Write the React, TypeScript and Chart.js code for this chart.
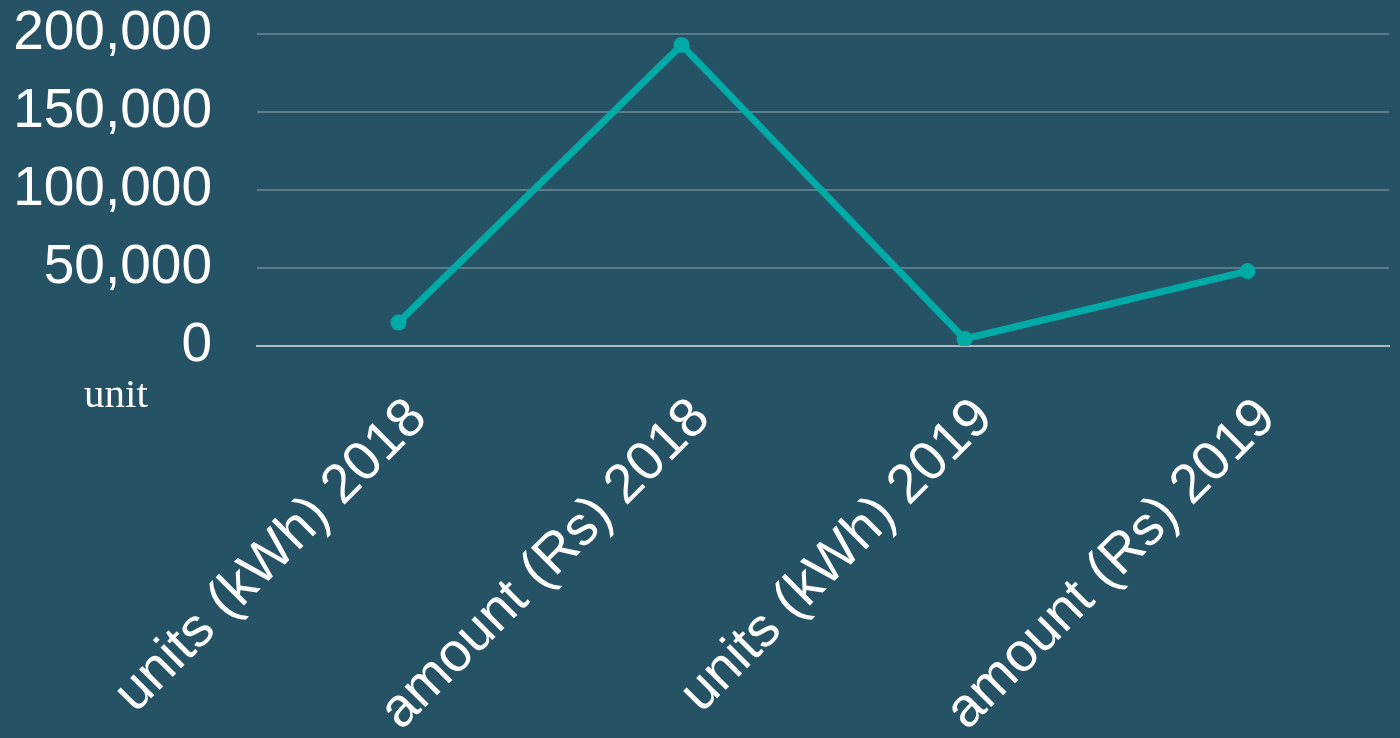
import React, { useEffect, useRef } from "react";
import { Chart, registerables } from "chart.js";

Chart.register(...registerables);

const categories = ["units (kWh) 2018", "amount (Rs) 2018", "units (kWh) 2019", "amount (Rs) 2019"];
const values = [15000, 193000, 4500, 48000];
const yTicks = [0, 50000, 100000, 150000, 200000];
const unitLabel = "unit";

const BG = "#255265";
const LINE = "#00ABA6";
const FONT = "'Liberation Sans', Arial, sans-serif";

export default function App() {
  const ref = useRef<HTMLCanvasElement | null>(null);

  useEffect(() => {
    document.body.style.margin = "0";
    document.body.style.background = BG;
    const canvas = ref.current;
    if (!canvas) return;
    const chart = new Chart(canvas, {
      type: "line",
      data: {
        labels: categories,
        datasets: [
          {
            data: values,
            borderColor: LINE,
            backgroundColor: LINE,
            borderWidth: 7,
            pointRadius: 8,
            pointBackgroundColor: LINE,
            pointBorderColor: LINE,
            pointBorderWidth: 0,
            tension: 0,
            fill: false,
          },
        ],
      },
      options: {
        animation: false,
        responsive: true,
        maintainAspectRatio: false,
        layout: { padding: { top: 34, right: 11, left: 0, bottom: 0 } },
        plugins: {
          legend: { display: false },
          tooltip: { enabled: false },
          title: { display: false },
        },
        scales: {
          x: {
            offset: true,
            grid: { display: false, drawTicks: false },
            border: { display: true, color: "#a9bcc3", width: 2 },
            ticks: {
              color: "#ffffff",
              font: { size: 55, family: FONT },
              minRotation: 45,
              maxRotation: 45,
              autoSkip: false,
              padding: 40,
              labelOffset: 20,
            },
            afterFit: (scale: any) => {
              scale.height = 392;
            },
          },
          y: {
            min: yTicks[0],
            max: yTicks[yTicks.length - 1],
            grid: {
              color: "rgba(255,255,255,0.25)",
              lineWidth: 2,
              drawTicks: true,
              tickLength: 45,
              tickColor: "rgba(0,0,0,0)",
            },
            border: { display: false },
            afterBuildTicks: (scale: any) => {
              scale.ticks = yTicks.map((v) => ({ value: v }));
            },
            ticks: {
              color: "#ffffff",
              font: { size: 55, family: FONT },
              padding: 0,
              autoSkip: false,
              callback: (v: any) => Number(v).toLocaleString("en-US"),
            },
            afterFit: (scale: any) => {
              scale.width = 257;
            },
          },
        },
      },
    });
    return () => chart.destroy();
  }, []);

  return (
    <div style={{ position: "relative", width: 1400, height: 738, background: BG, overflow: "hidden" }}>
      <canvas ref={ref} />
      <div
        style={{
          position: "absolute",
          left: 84,
          top: 373,
          fontFamily: "'Liberation Serif', 'Times New Roman', serif",
          fontSize: 41,
          lineHeight: 1,
          color: "#ffffff",
        }}
      >
        {unitLabel}
      </div>
    </div>
  );
}
